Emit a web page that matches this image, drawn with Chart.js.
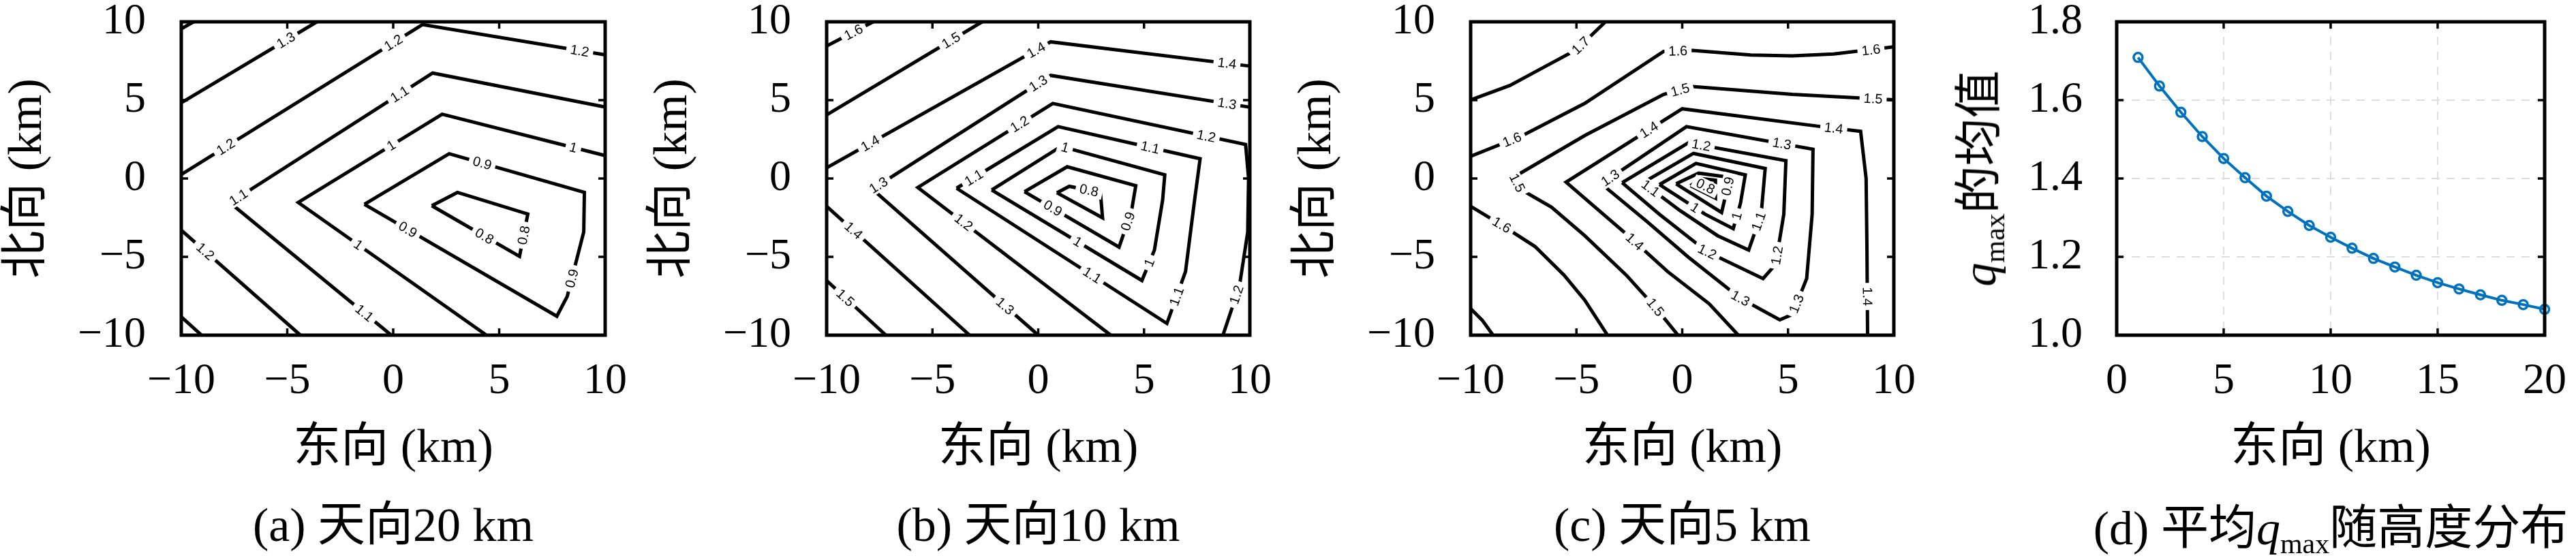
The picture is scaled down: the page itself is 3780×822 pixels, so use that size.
<!DOCTYPE html>
<html><head><meta charset="utf-8">
<script src="https://cdn.jsdelivr.net/npm/chart.js@4.4.1/dist/chart.umd.min.js"></script>
<style>
html,body{margin:0;padding:0;background:#fff;}
body{width:3780px;height:822px;position:relative;overflow:hidden;}
canvas.pane{position:absolute;top:0;}
.rich{position:absolute;white-space:nowrap;font-family:'Liberation Serif','Noto Sans CJK SC',serif;font-size:70px;line-height:1;color:#000;transform:translate(-50%,-50%);}
.rich i{font-style:italic;}
.rich sub{font-size:0.6em;vertical-align:-0.32em;line-height:0;}
.rot{transform:translate(-50%,-50%) rotate(-90deg);}
</style></head><body>
<canvas id="pa" class="pane" style="left:0px" width="946" height="822"></canvas>
<canvas id="pb" class="pane" style="left:947px" width="946" height="822"></canvas>
<canvas id="pc" class="pane" style="left:1892px" width="946" height="822"></canvas>
<canvas id="pd" class="pane" style="left:2841px" width="939" height="822"></canvas>
<div class="rich rot" style="left:2905px;top:262px"><i>q</i><sub>max</sub>的均值</div>
<div class="rich" style="left:3420px;top:776px">(d) 平均<i>q</i><sub>max</sub>随高度分布</div>
<script>
// ---------- tick labels ----------
const contourTicks = [-10, -5, 0, 5, 10];
const heightTicks = [0, 5, 10, 15, 20];
const qTicks = [1.0, 1.2, 1.4, 1.6, 1.8];

// ---------- panel (d) data ----------
const heights = [1,2,3,4,5,6,7,8,9,10,11,12,13,14,15,16,17,18,19,20];
const qmaxMean = [1.709,1.636,1.569,1.507,1.451,1.402,1.355,1.316,1.280,1.250,1.222,1.196,1.174,1.153,1.134,1.118,1.103,1.089,1.078,1.066];

// ---------- panel (a) contours: 天向20 km ----------
const a_c14 = [[-10,9.55],[-9.42,10]];
const a_c13 = [[-10,4.83],[-3.60,10]];
const a_c12u = [[-10,0.25],[1.38,9.82],[9.86,7.92],[10,7.89]];
const a_c11 = [[-0.09,-10],[-7.70,-1.55],[1.86,6.73],[9.86,4.60],[10,4.57]];
const a_c10 = [[4.40,-10],[-4.48,-1.53],[2.31,4.10],[9.86,1.51],[10,1.46]];
const a_c09 = [[-1.36,-1.65],[2.64,1.58],[9.02,-0.89],[8.99,-3.41],[8.21,-7.53],[7.72,-8.79],[-1.36,-1.65]];
const a_c08 = [[1.82,-1.74],[3.03,-0.89],[6.35,-2.27],[5.96,-4.97],[1.82,-1.74]];
const a_c12l = [[-10,-3.30],[-4.38,-10]];
const a_c13l = [[-10,-8.83],[-9.04,-10]];
const a_labels = [[-5.06,8.82,'1.3'],[-7.9,2.02,'1.2'],[0.01,8.67,'1.2'],[8.8,8.15,'1.2'],
  [-7.3,-1.2,'1.1'],[0.3,5.38,'1.1'],[-1.36,-8.59,'1.1'],
  [-0.09,2.11,'1'],[8.5,1.98,'1'],[-1.65,-4.23,'1'],
  [4.2,0.98,'0.9'],[8.43,-6.38,'0.9'],[0.69,-3.26,'0.9'],
  [6.16,-3.62,'0.8'],[4.3,-3.68,'0.8'],[-8.87,-4.65,'1.2']];

// ---------- panel (b) contours: 天向10 km ----------
const b_c16 = [[-10,8.45],[-7.8,10]];
const b_c15u = [[-10,4.06],[-2.65,10]];
const b_c14u = [[-10,0.68],[0.59,8.72],[9.90,7.19],[10,7.17]];
const b_c13 = [[0,-10],[-7.84,-0.68],[0.59,6.58],[9.90,4.57],[10,4.55]];
const b_c14l = [[-10,-1.78],[-3.24,-10]];
const b_c15l = [[-10,-6.51],[-7.20,-10]];
const b_c12 = [[3.43,-10],[-5.69,-0.57],[0.69,4.79],[9.80,2.17],[9.94,0.0],[9.90,-3.42],[9.51,-6.85],[8.73,-10]];
const b_c11 = [[-3.86,-0.62],[0.94,3.31],[7.65,1.26],[7.39,-1.37],[6.96,-5.94],[6.08,-9.25],[-3.86,-0.62]];
const b_c10 = [[-2.20,-0.73],[1.08,2.05],[5.98,0.23],[5.88,-1.37],[5.49,-4.57],[4.90,-6.51],[-2.20,-0.73]];
const b_c09 = [[-0.65,-0.84],[1.37,0.75],[4.61,-0.46],[4.41,-2.05],[3.82,-4.38],[-0.65,-0.84]];
const b_c08 = [[0.88,-0.91],[1.47,-0.50],[2.94,-0.91],[3.04,-2.51],[0.88,-0.91]];
const b_labels = [[-8.73,9.34,'1.6'],[-4.12,8.81,'1.5'],[-7.94,2.24,'1.4'],[-0.10,8.19,'1.4'],[8.92,7.35,'1.4'],
  [-7.55,-0.43,'1.3'],[0,6.07,'1.3'],[8.92,4.78,'1.3'],[-1.57,-8.14,'1.3'],
  [-8.73,-3.32,'1.4'],[-9.12,-7.61,'1.5'],
  [-0.88,3.47,'1.2'],[7.94,2.70,'1.2'],[9.37,-7.42,'1.2'],[-3.53,-2.80,'1.2'],
  [-3.04,0.05,'1.1'],[5.29,1.98,'1.1'],[6.54,-7.53,'1.1'],[2.55,-6.18,'1.1'],
  [1.27,1.98,'1'],[5.25,-5.37,'1'],[1.86,-4.03,'1'],
  [4.24,-2.74,'0.9'],[0.69,-1.90,'0.9'],[2.4,-0.76,'0.8']];

// ---------- panel (c) contours: 天向5 km ----------
const c_c17u = [[-10,5.02],[-8.14,5.94],[-6.57,7.08],[-5.0,8.22],[-3.63,10]];
const c_c16u = [[-10,1.42],[-7.55,2.74],[-4.61,4.79],[-0.88,8.11],[0.49,8.17],[3.24,7.88],[5.2,7.83],[7.16,7.95],[10,8.40]];
const c_c15 = [[-0.2,-10],[-1.27,-8.22],[-2.65,-6.16],[-4.61,-3.65],[-6.18,-1.83],[-7.65,-0.68],[-7.94,0.11],[-4.61,2.74],[-0.88,5.37],[0.49,5.87],[5.20,5.37],[10,5.02]];
const c_c16l = [[-10,-1.78],[-8.53,-2.97],[-6.96,-4.34],[-5.59,-6.16],[-4.61,-7.76],[-3.53,-10]];
const c_c17l = [[-10,-8.30],[-9.45,-9.05],[-8.94,-10]];
const c_c14 = [[2.65,-10],[1.27,-7.99],[-0.69,-5.94],[-2.65,-3.54],[-4.22,-1.71],[-5.49,-0.23],[0.0,4.45],[6.57,3.31],[8.43,3.01],[8.69,0.0],[8.73,-4.57],[8.76,-10]];
const c_c13 = [[-3.82,-0.34],[0.20,3.31],[6.18,1.87],[6.14,-2.28],[5.88,-6.39],[5.20,-8.68],[4.61,-9.02],[2.75,-7.65],[0.29,-5.02],[-1.67,-2.74],[-3.82,-0.34]];
const c_c12 = [[-2.84,-0.27],[0.29,2.28],[4.90,1.14],[4.80,-2.28],[4.41,-5.48],[3.82,-6.39],[1.18,-4.68],[-1.08,-2.28],[-2.84,-0.27]];
const c_c11 = [[-1.86,-0.27],[0.53,1.60],[3.92,0.64],[3.73,-2.28],[3.14,-4.57],[1.67,-3.65],[-0.10,-2.05],[-1.86,-0.27]];
const c_c10 = [[-1.08,-0.39],[0.65,0.96],[2.98,0.23],[2.75,-1.6],[2.41,-3.20],[1.08,-2.28],[-1.08,-0.39]];
const c_c09 = [[-0.29,-0.34],[0.78,0.34],[2.25,0.07],[1.86,-2.17],[-0.29,-0.34]];
const c_c08 = [[0.39,-0.46],[0.88,0.0],[1.57,-0.11],[1.57,-1.26],[0.39,-0.46]];
const c_labels = [[-4.8,8.48,'1.7'],[-8.04,2.48,'1.6'],[-0.2,8.14,'1.6'],[8.92,8.2,'1.6'],
  [-7.8,-0.28,'1.5'],[-0.1,5.65,'1.5'],[9.02,5.09,'1.5'],[-1.27,-8.22,'1.5'],[-8.53,-2.97,'1.6'],
  [-1.57,3.11,'1.4'],[7.16,3.21,'1.4'],[8.75,-7.53,'1.4'],[-2.25,-4.03,'1.4'],
  [-3.4,0.04,'1.3'],[4.71,2.22,'1.3'],[5.40,-8.0,'1.3'],[2.75,-7.65,'1.3'],
  [0.9,2.13,'1.2'],[4.48,-4.91,'1.2'],[1.18,-4.68,'1.2'],
  [-1.5,-0.63,'1.1'],[3.61,-2.74,'1.1'],
  [2.58,-2.4,'1'],[0.6,-1.86,'1'],
  [2.15,-0.5,'0.9'],[1.1,-0.5,'0.8']];

// ---------- helpers ----------
const SERIF = "'Liberation Serif','Noto Sans CJK SC',serif";
const CLEAR = 'rgba(0,0,0,0)';
function fmtMinus(v){ return String(v).replace('-', '\u2212'); }
function distToSeg(px, py, s){
  const [x1,y1,x2,y2] = s; const dx = x2-x1, dy = y2-y1;
  const L = dx*dx+dy*dy; let t = L ? ((px-x1)*dx+(py-y1)*dy)/L : 0;
  t = Math.max(0, Math.min(1, t));
  const qx = x1+t*dx, qy = y1+t*dy; return Math.hypot(px-qx, py-qy);
}
const contourLabelPlugin = {
  id: 'contourLabels',
  afterDatasetsDraw(chart, args, opts){
    const items = opts.items || [];
    if (!items.length) return;
    const ctx = chart.ctx, xs = chart.scales.x, ys = chart.scales.y;
    const segs = [];
    chart.data.datasets.forEach((ds, i) => {
      const pts = chart.getDatasetMeta(i).data;
      for (let k = 0; k < pts.length-1; k++) segs.push([pts[k].x, pts[k].y, pts[k+1].x, pts[k+1].y]);
    });
    ctx.save();
    ctx.font = opts.font; ctx.textAlign = 'center'; ctx.textBaseline = 'middle';
    items.forEach(([vx, vy, txt]) => {
      const px = xs.getPixelForValue(vx), py = ys.getPixelForValue(vy);
      let best = null, bd = Infinity;
      segs.forEach(s => { const d = distToSeg(px, py, s); if (d < bd) { bd = d; best = s; } });
      let ang = best ? Math.atan2(best[3]-best[1], best[2]-best[0]) : 0;
      if (ang > Math.PI/2) ang -= Math.PI;
      if (ang < -Math.PI/2) ang += Math.PI;
      const w = ctx.measureText(txt).width;
      ctx.save(); ctx.translate(px, py); ctx.rotate(ang);
      ctx.fillStyle = '#fff'; ctx.fillRect(-w/2-6, -10, w+12, 20);
      ctx.fillStyle = '#000'; ctx.fillText(txt, 0, 1);
      ctx.restore();
    });
    ctx.restore();
  }
};
const framePlugin = {
  id: 'frame',
  afterDraw(chart, args, opts){
    const ctx = chart.ctx, {left, top, right, bottom} = chart.chartArea;
    const xs = chart.scales.x, ys = chart.scales.y, len = opts.len || 10;
    ctx.save(); ctx.strokeStyle = '#000'; ctx.lineWidth = 3.5; ctx.beginPath();
    xs.ticks.forEach(t => { const p = xs.getPixelForValue(t.value);
      ctx.moveTo(p, bottom); ctx.lineTo(p, bottom-len); ctx.moveTo(p, top); ctx.lineTo(p, top+len); });
    ys.ticks.forEach(t => { const p = ys.getPixelForValue(t.value);
      ctx.moveTo(left, p); ctx.lineTo(left+len, p); ctx.moveTo(right, p); ctx.lineTo(right-len, p); });
    ctx.stroke();
    ctx.lineWidth = 5; ctx.strokeRect(left, top, right-left, bottom-top);
    ctx.restore();
  }
};
function contourSets(list){
  return list.map(pts => ({
    data: pts.map(p => ({x: p[0], y: p[1]})),
    showLine: true, borderColor: '#000', borderWidth: 5, pointRadius: 0, pointHoverRadius: 0,
    tension: 0, fill: false
  }));
}
function contourChart(id, list, labels, caption, padRight){
  return new Chart(document.getElementById(id), {
    type: 'scatter',
    data: {datasets: contourSets(list)},
    options: {
      responsive: false, animation: false, devicePixelRatio: 1, events: [],
      layout: {padding: {top: 32, right: padRight, bottom: 0, left: 0}},
      plugins: {
        legend: {display: false}, tooltip: {enabled: false},
        title: {display: true, text: caption, position: 'bottom', fullSize: false, color: '#000',
          font: {family: SERIF, size: 70, weight: 'normal', lineHeight: 1.2}, padding: {top: 0, bottom: 4}},
        contourLabels: {items: labels, font: "20px 'Liberation Sans', Arial, sans-serif"},
        frame: {len: 10}
      },
      scales: {
        x: {type: 'linear', position: 'bottom', min: -10, max: 10,
          afterBuildTicks: s => { s.ticks = contourTicks.map(v => ({value: v})); },
          afterFit: s => { s.height = 242; },
          grid: {display: true, drawOnChartArea: false, drawTicks: true, tickLength: 36, tickColor: CLEAR, color: CLEAR},
          border: {display: false},
          ticks: {color: '#000', padding: 0, maxRotation: 0, autoSkip: false,
            font: {family: SERIF, size: 64, lineHeight: 1}, callback: v => fmtMinus(v)},
          title: {display: true, text: '东向 (km)', color: '#000',
            font: {family: SERIF, size: 70, lineHeight: 1.2}, padding: {top: 0, bottom: 32}}},
        y: {type: 'linear', position: 'left', min: -10, max: 10,
          afterBuildTicks: s => { s.ticks = contourTicks.map(v => ({value: v})); },
          afterFit: s => { s.width = 266; },
          grid: {display: true, drawOnChartArea: false, drawTicks: true, tickLength: 52, tickColor: CLEAR, color: CLEAR},
          border: {display: false},
          ticks: {color: '#000', padding: 0, autoSkip: false,
            font: {family: SERIF, size: 64, lineHeight: 1}, callback: v => fmtMinus(v)},
          title: {display: true, text: '北向 (km)', color: '#000',
            font: {family: SERIF, size: 70, lineHeight: 1.2}, padding: {top: 0, bottom: 0}}}
      }
    },
    plugins: [contourLabelPlugin, framePlugin]
  });
}

contourChart('pa', [a_c14, a_c13, a_c12u, a_c11, a_c10, a_c09, a_c08, a_c12l, a_c13l], a_labels, '(a) 天向20 km', 58);
contourChart('pb', [b_c16, b_c15u, b_c14u, b_c13, b_c14l, b_c15l, b_c12, b_c11, b_c10, b_c09, b_c08], b_labels, '(b) 天向10 km', 59);
contourChart('pc', [c_c17u, c_c16u, c_c15, c_c16l, c_c17l, c_c14, c_c13, c_c12, c_c11, c_c10, c_c09, c_c08], c_labels, '(c) 天向5 km', 59);

new Chart(document.getElementById('pd'), {
  type: 'scatter',
  data: {datasets: [{
    data: heights.map((h, i) => ({x: h, y: qmaxMean[i]})),
    showLine: true, borderColor: '#0072BD', borderWidth: 4, tension: 0,
    pointRadius: 6.5, pointBorderWidth: 3.5, pointBorderColor: '#0072BD', pointBackgroundColor: 'rgba(0,0,0,0)',
    clip: false
  }]},
  options: {
    responsive: false, animation: false, devicePixelRatio: 1, events: [],
    layout: {padding: {top: 32, right: 46, bottom: 0, left: 0}},
    plugins: {legend: {display: false}, tooltip: {enabled: false}, frame: {len: 10}},
    scales: {
      x: {type: 'linear', position: 'bottom', min: 0, max: 20,
        afterBuildTicks: s => { s.ticks = heightTicks.map(v => ({value: v})); },
        afterFit: s => { s.height = 330; },
        grid: {display: true, drawTicks: true, tickLength: 36, tickColor: CLEAR, color: '#dedede', lineWidth: 2},
        border: {display: false, dash: [12, 10]},
        ticks: {color: '#000', padding: 0, maxRotation: 0, autoSkip: false,
          font: {family: SERIF, size: 64, lineHeight: 1}},
        title: {display: true, text: '东向 (km)', color: '#000',
          font: {family: SERIF, size: 70, lineHeight: 1.2}, padding: {top: 0, bottom: 120}}},
      y: {type: 'linear', position: 'left', min: 1.0, max: 1.8,
        afterBuildTicks: s => { s.ticks = qTicks.map(v => ({value: v})); },
        afterFit: s => { s.width = 265; },
        grid: {display: true, drawTicks: true, tickLength: 50, tickColor: CLEAR, color: '#dedede', lineWidth: 2},
        border: {display: false, dash: [12, 10]},
        ticks: {color: '#000', padding: 0, autoSkip: false,
          font: {family: SERIF, size: 64, lineHeight: 1}, callback: v => Number(v).toFixed(1)}}
    }
  },
  plugins: [framePlugin]
});
</script>
</body></html>
